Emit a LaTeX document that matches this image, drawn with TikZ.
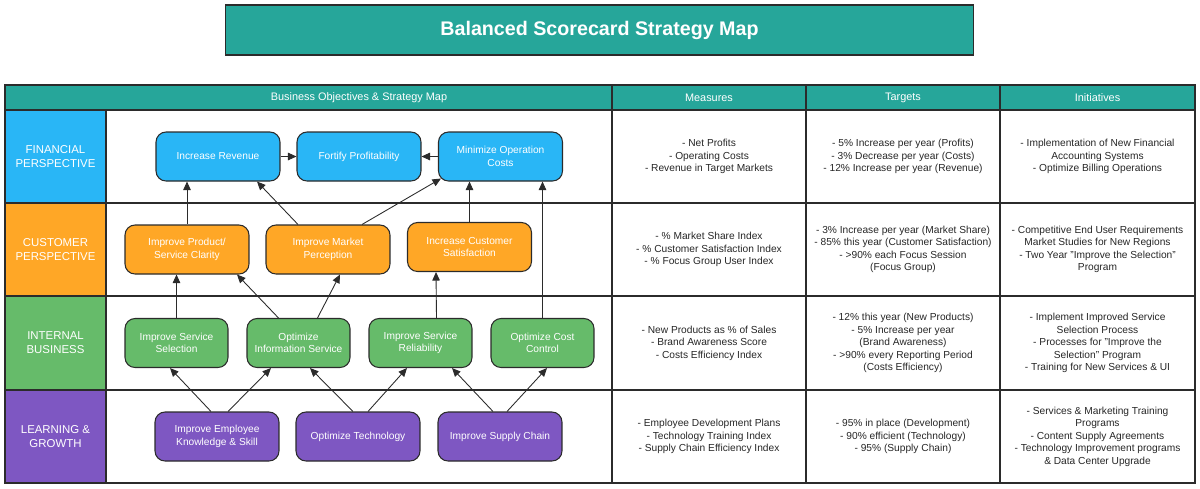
\documentclass[tikz,border=0pt]{standalone}
\usepackage{fontspec}
\setmainfont{Liberation Sans}
\usetikzlibrary{arrows.meta,calc}
\definecolor{Teal}{HTML}{26A69A}
\definecolor{FinBlue}{HTML}{29B6F6}
\definecolor{CustOrange}{HTML}{FFA726}
\definecolor{IntGreen}{HTML}{66BB6A}
\definecolor{LearnPurple}{HTML}{7E57C2}
\definecolor{Edge}{HTML}{2B2B2B}
\tikzset{
  objective/.style={draw=Edge, line width=0.6pt, rounded corners=0.2cm, text=white, align=center, inner sep=0pt, minimum height=0.98cm, font=\fontsize{5.8}{7.1}\selectfont},
  wideobj/.style={objective, minimum width=2.48cm},
  narrowobj/.style={objective, minimum width=2.06cm},
  cell/.style={align=center, text=black!85, font=\fontsize{5.8}{7.1}\selectfont},
  headcell/.style={text=white, font=\fontsize{6.2}{7.5}\selectfont},
  sidecell/.style={text=white, align=center, font=\fontsize{6.5}{7.9}\selectfont},
  link/.style={draw=Edge, line width=0.5pt, -{Triangle[length=0.17cm,width=0.15cm]}},
  grid/.style={draw=Edge, line width=0.6pt}
}

\begin{document}
\begin{tikzpicture}[x=0.02cm, y=-0.02cm]%
\useasboundingbox (0,0) rectangle (1200,488);%
% title
\node[draw=Edge, line width=0.6pt, fill=Teal, text=white, minimum width=14.98cm, minimum height=1cm, font=\fontsize{11.2}{13}\selectfont\bfseries] (title) at (599.5,30) {Balanced Scorecard Strategy Map};%
% table background
\fill[Teal] (5,85) rectangle (1195,110);%
\fill[FinBlue] (5,110) rectangle (106,203);%
\fill[CustOrange] (5,203) rectangle (106,296);%
\fill[IntGreen] (5,296) rectangle (106,390);%
\fill[LearnPurple] (5,390) rectangle (106,483);%
\foreach \yy in {110,203,296,390} {\draw[grid] (5,\yy) -- (1195,\yy);}%
\draw[grid] (106,110) -- (106,483);%
\foreach \xx in {612,806,1000} {\draw[grid] (\xx,85) -- (\xx,483);}%
\draw[grid, line width=0.9pt] (5,85) rectangle (1195,483);%
% header
\node[headcell] (hmap) at (359,97.5) {Business Objectives \& Strategy Map};%
\node[headcell] (hmeas) at (709,97.5) {Measures};%
\node[headcell] (htarg) at (903,97.5) {Targets};%
\node[headcell] (hinit) at (1097.5,97.5) {Initiatives};%
% perspectives
\node[sidecell] (pfin) at (55.5,156.5) {FINANCIAL\\PERSPECTIVE};%
\node[sidecell] (pcust) at (55.5,249.5) {CUSTOMER\\PERSPECTIVE};%
\node[sidecell] (pint) at (55.5,343) {INTERNAL\\BUSINESS};%
\node[sidecell] (plearn) at (55.5,436.5) {LEARNING \&\\GROWTH};%
% objectives
\node[wideobj, fill=FinBlue] (rev) at (218,156.5) {Increase Revenue};%
\node[wideobj, fill=FinBlue] (prof) at (359,156.5) {Fortify Profitability};%
\node[wideobj, fill=FinBlue] (opcost) at (500.5,156.5) {Minimize Operation\\Costs};%
\node[wideobj, fill=CustOrange] (prod) at (187,249.5) {Improve Product/\\Service Clarity};%
\node[wideobj, fill=CustOrange] (market) at (328,249.5) {Improve Market\\Perception};%
\node[wideobj, fill=CustOrange] (satis) at (469.5,247) {Increase Customer\\Satisfaction};%
\node[narrowobj, fill=IntGreen] (select) at (176.5,343) {Improve Service\\Selection};%
\node[narrowobj, fill=IntGreen] (info) at (298.5,343) {Optimize\\Information Service};%
\node[narrowobj, fill=IntGreen] (reliab) at (420.5,343) {Improve Service\\Reliability};%
\node[narrowobj, fill=IntGreen] (control) at (542.5,343) {Optimize Cost\\Control};%
\node[wideobj, fill=LearnPurple] (employee) at (217,436.5) {Improve Employee\\Knowledge \& Skill};%
\node[wideobj, fill=LearnPurple] (tech) at (358,436.5) {Optimize Technology};%
\node[wideobj, fill=LearnPurple] (supply) at (500,436.5) {Improve Supply Chain};%
% links
\draw[link] (rev) -- (prof);%
\draw[link] (opcost) -- (prof);%
\draw[link] (prod.north) -- (prod.north |- rev.south);%
\draw[link] ($(market.north)+(-30,0)$) -- ($(rev.south)+(39,0)$);%
\draw[link] ($(market.north)+(34,0)$) -- ($(opcost.south west)+(3,-3)$);%
\draw[link] (satis.north) -- (satis.north |- opcost.south);%
\draw[link] (control.north) -- (control.north |- opcost.south);%
\draw[link] (select.north) -- (select.north |- prod.south);%
\draw[link] ($(info.north)+(-20,0)$) -- ($(prod.south)+(50,0)$);%
\draw[link] ($(info.north)+(19,0)$) -- ($(market.south)+(12,0)$);%
\draw[link] ($(reliab.north)+(16,0)$) -- ($(satis.south)+(-33.5,0)$);%
\draw[link] ($(employee.north)+(-6,0)$) -- ($(select.south)+(-6.5,0)$);%
\draw[link] ($(employee.north)+(11,0)$) -- ($(info.south)+(-27.5,0)$);%
\draw[link] ($(tech.north)+(-5,0)$) -- ($(info.south)+(11.5,0)$);%
\draw[link] ($(tech.north)+(10,0)$) -- ($(reliab.south)+(-13.5,0)$);%
\draw[link] ($(supply.north)+(-7,0)$) -- ($(reliab.south)+(31.5,0)$);%
\draw[link] ($(supply.north)+(7,0)$) -- ($(control.south)+(4.5,0)$);%
% measures
\node[cell] (mfin) at (709,156.5) {- Net Profits\\- Operating Costs\\- Revenue in Target Markets};%
\node[cell] (mcust) at (709,249.5) {- \% Market Share Index\\- \% Customer Satisfaction Index\\- \% Focus Group User Index};%
\node[cell] (mint) at (709,343) {- New Products as \% of Sales\\- Brand Awareness Score\\- Costs Efficiency Index};%
\node[cell] (mlearn) at (709,436.5) {- Employee Development Plans\\- Technology Training Index\\- Supply Chain Efficiency Index};%
% targets
\node[cell] (tfin) at (903,156.5) {- 5\% Increase per year (Profits)\\- 3\% Decrease per year (Costs)\\- 12\% Increase per year (Revenue)};%
\node[cell] (tcust) at (903,249.5) {- 3\% Increase per year (Market Share)\\- 85\% this year (Customer Satisfaction)\\- >90\% each Focus Session\\(Focus Group)};%
\node[cell] (tint) at (903,343) {- 12\% this year (New Products)\\- 5\% Increase per year\\(Brand Awareness)\\- >90\% every Reporting Period\\(Costs Efficiency)};%
\node[cell] (tlearn) at (903,436.5) {- 95\% in place (Development)\\- 90\% efficient (Technology)\\- 95\% (Supply Chain)};%
% initiatives
\node[cell] (ifin) at (1097.5,156.5) {- Implementation of New Financial\\Accounting Systems\\- Optimize Billing Operations};%
\node[cell] (icust) at (1097.5,249.5) {- Competitive End User Requirements\\Market Studies for New Regions\\- Two Year "Improve the Selection"\\Program};%
\node[cell] (iint) at (1097.5,343) {- Implement Improved Service\\Selection Process\\- Processes for "Improve the\\Selection" Program\\- Training for New Services \& UI};%
\node[cell] (ilearn) at (1097.5,436.5) {- Services \& Marketing Training\\Programs\\- Content Supply Agreements\\- Technology Improvement programs\\\& Data Center Upgrade};%
\end{tikzpicture}
\end{document}
